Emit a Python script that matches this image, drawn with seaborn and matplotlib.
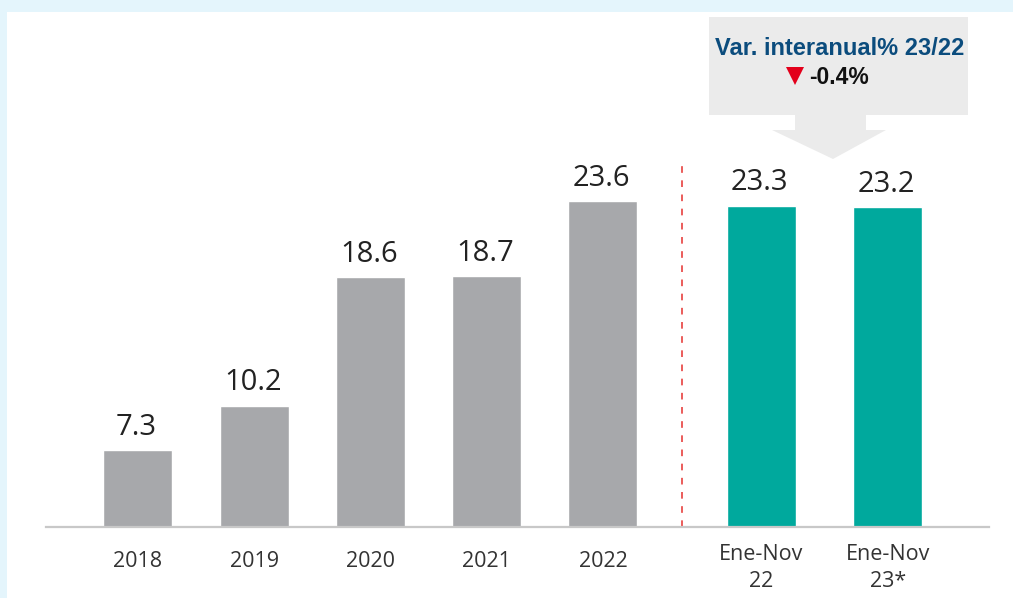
import numpy as np
import pandas as pd
import matplotlib
matplotlib.use("Agg")
import matplotlib.pyplot as plt
from matplotlib.patches import Rectangle, Polygon
import seaborn as sns

# DATA
periods = ["2018", "2019", "2020", "2021", "2022", "Ene-Nov\n22", "Ene-Nov\n23*"]
values = [7.3, 10.2, 18.6, 18.7, 23.6, 23.3, 23.2]
groups = ["anual", "anual", "anual", "anual", "anual", "parcial", "parcial"]
box_title = "Var. interanual% 23/22"
box_change = "-0.4%"

# LAYOUT (slot of each bar on the x axis, gap before the partial-year bars)
x_slots = [0, 1, 2, 3, 4, 5.36, 6.45]

df = pd.DataFrame({"slot": x_slots, "valor": values, "grupo": groups})

sns.set_style("white")
plt.rcParams["font.family"] = ["Open Sans", "DejaVu Sans"]

W, H = 1013, 598
fig = plt.figure(figsize=(W / 100, H / 100), dpi=100)
fig.patch.set_facecolor("#E4F5FC")


def fx(px):
    return px / W


def fy(py):
    return 1 - py / H


# white panel
fig.add_artist(Rectangle((fx(7), 0), 1 - fx(7), fy(12), transform=fig.transFigure,
                         facecolor="white", edgecolor="none", zorder=0))

ax = fig.add_axes([fx(46), fy(527), fx(989) - fx(46), fy(30) - fy(527)])
ax.set_facecolor("none")

sns.barplot(data=df, x="slot", y="valor", hue="grupo",
            palette={"anual": "#A7A8AB", "parcial": "#00A99D"},
            native_scale=True, dodge=False, width=0.594, saturation=1,
            errorbar=None, legend=False, ax=ax)

y0 = 2.25
ax.set_ylim(y0, y0 + 497 / 15.26)
ax.set_xlim(-0.79, 7.32)

# value labels
for s, v in zip(x_slots, values):
    ax.annotate(f"{v:.1f}", xy=(s, v), xytext=(-1, 11), textcoords="offset points",
                ha="center", va="baseline", fontsize=21, color="#222222")

# divider between full years and partial year
ax.axvline((x_slots[4] + x_slots[5]) / 2, ymin=0, ymax=0.728, color="#E8413E",
           lw=1.2, ls=(0, (4, 4.5)))

# axes styling
for side in ["left", "right", "top"]:
    ax.spines[side].set_visible(False)
ax.spines["bottom"].set_color("#C8C8C8")
ax.spines["bottom"].set_linewidth(1.6)
ax.set_yticks([])
ax.set_xticks(x_slots)
ax.set_xticklabels(periods, fontsize=15.5, color="#333333", linespacing=1.4)
ax.tick_params(axis="x", length=0)
for i, t in enumerate(ax.xaxis.get_major_ticks()):
    t.set_pad(17 if i < 5 else 12)
ax.set_xlabel("")
ax.set_ylabel("")

# annotation box with arrow
shape = [(709, 17), (968, 17), (968, 115), (866, 115), (866, 130), (886, 130),
         (833, 159), (772, 130), (795, 130), (795, 115), (709, 115)]
fig.add_artist(Polygon([(fx(x), fy(y)) for x, y in shape], closed=True,
                       transform=fig.transFigure, facecolor="#EBEBEB",
                       edgecolor="none", zorder=1))
fig.text(fx(840), fy(55), box_title, ha="center", va="baseline", fontsize=17,
         fontweight="bold", color="#0B4C7D", family=["Liberation Sans", "DejaVu Sans"],
         zorder=2)
tri = [(786, 67), (804, 67), (795, 85)]
fig.add_artist(Polygon([(fx(x), fy(y)) for x, y in tri], closed=True,
                       transform=fig.transFigure, facecolor="#E3001B",
                       edgecolor="none", zorder=2))
fig.text(fx(809), fy(84), box_change, ha="left", va="baseline", fontsize=16.5,
         fontweight="bold", color="#111111", family=["Liberation Sans", "DejaVu Sans"],
         zorder=2)

fig.savefig("out.png", dpi=100, facecolor=fig.get_facecolor())
